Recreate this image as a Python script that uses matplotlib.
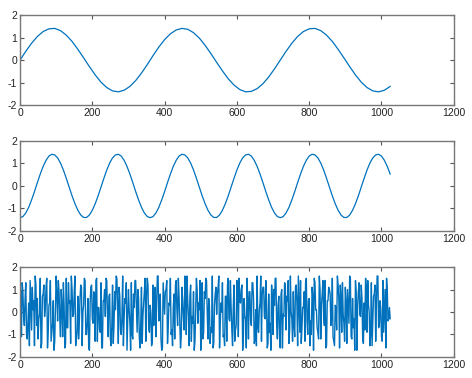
import numpy as np
import matplotlib
matplotlib.use("Agg")
import matplotlib.pyplot as plt

# Sinal 1: seno lento (amostrado a cada 16 pontos)
x1 = np.arange(0, 1025, 16)
y1 = [0.00, 0.39, 0.75, 1.05, 1.27, 1.39, 1.41, 1.31, 1.11, 0.83, 0.48, 0.10,
      -0.29, -0.66, -0.98, -1.22, -1.37, -1.41, -1.34, -1.17, -0.91, -0.58, -0.20,
      0.20, 0.58, 0.91, 1.17, 1.34, 1.41, 1.37, 1.22, 0.98, 0.66, 0.29, -0.10,
      -0.48, -0.83, -1.11, -1.31, -1.41, -1.39, -1.27, -1.05, -0.75, -0.39,
      0.00, 0.39, 0.75, 1.05, 1.27, 1.39, 1.41, 1.31, 1.11, 0.83, 0.48, 0.10,
      -0.29, -0.66, -0.98, -1.22, -1.37, -1.41, -1.34, -1.17]

# Sinal 2: cosseno mais rápido (amostrado a cada 8 pontos)
x2 = np.arange(0, 1025, 8)
y2 = [-1.41, -1.36, -1.20, -0.95, -0.62, -0.25, 0.15, 0.53, 0.87, 1.14, 1.33, 1.41,
      1.38, 1.25, 1.02, 0.71, 0.34, -0.05, -0.44, -0.79, -1.08, -1.29, -1.40,
      -1.40, -1.29, -1.08, -0.79, -0.44, -0.05, 0.34, 0.71, 1.02, 1.25, 1.38,
      1.41, 1.33, 1.14, 0.87, 0.53, 0.15, -0.25, -0.62, -0.95, -1.20, -1.36,
      -1.41, -1.36, -1.20, -0.95, -0.62, -0.25, 0.15, 0.53, 0.87, 1.14, 1.33, 1.41,
      1.38, 1.25, 1.02, 0.71, 0.34, -0.05, -0.44, -0.79, -1.08, -1.29, -1.40,
      -1.40, -1.29, -1.08, -0.79, -0.44, -0.05, 0.34, 0.71, 1.02, 1.25, 1.38,
      1.41, 1.33, 1.14, 0.87, 0.53, 0.15, -0.25, -0.62, -0.95, -1.20, -1.36,
      -1.41, -1.36, -1.20, -0.95, -0.62, -0.25, 0.15, 0.53, 0.87, 1.14, 1.33, 1.41,
      1.38, 1.25, 1.02, 0.71, 0.34, -0.05, -0.44, -0.79, -1.08, -1.29, -1.40,
      -1.40, -1.29, -1.08, -0.79, -0.44, -0.05, 0.34, 0.71, 1.02, 1.25, 1.38,
      1.41, 1.33, 1.14, 0.87, 0.53]

# Sinal 3: ruído, amostras pares (ruido_a) e ímpares (ruido_b), passo 2
ruido_a = [0.2, -1.1, 0.9, -0.6, 1.3, -1.2, 0.4, 1.4, -0.8, 0.1, -1.5, 1.2, 0.6, -0.3, 1.5, -1.4,
           0.8, -0.2, 1.1, -1.6, 0.3, 1.4, -0.9, 0.5, -1.3, 1.6, -0.4, 0.9, -1.1, 0.2, 1.3, -1.6,
           1.5, -0.7, 0.4, -1.4, 1.0, -0.1, 1.6, -1.2, 0.7, -0.5, 1.2, -1.5, 0.3, 1.4, -1.0, 0.6,
           -1.7, 1.1, -0.3, 0.9, -1.3, 1.5, 0.2, -0.8, 1.3, -1.6, 0.5, -0.2, 1.4, -1.1, 0.8, -1.5,
           1.2, -0.6, 0.1, 1.5, -1.4, 0.7, -1.0, 1.6, -0.3, 0.4, -1.7, 1.0, -0.5, 1.3, -1.2, 0.2,
           1.4, -0.9, 0.6, -1.6, 1.1, -0.2, 0.9, -1.3, 1.5, -0.7, 0.3, -1.5, 1.2, 0.5, -1.1, 1.6,
           -0.4, 0.8, -1.7, 1.3, -0.1, 1.0, -1.4, 0.4, 1.5, -0.8, 0.2, -1.2, 1.4, -0.6, 0.7, -1.6,
           1.1, -0.3, 1.6, -1.0, 0.5, -1.5, 1.2, -0.2, 0.9, -1.3, 1.5, -0.5, 0.1, -1.7, 1.3, -0.9,
           0.6, 1.4, -1.2, 0.3, -0.7, 1.6, -1.4, 0.8, -0.1, 1.1, -1.6, 0.4, 1.3, -1.0, 0.7, -1.3,
           1.5, -0.4, 0.2, -1.5, 1.2, -0.8, 1.4, -1.1, 0.5, 1.0, -1.7, 0.6, -0.3, 1.5, -1.2, 0.9,
           -0.6, 1.3, -1.4, 0.1, 1.6, -0.9, 0.4, -1.3, 1.1, -0.2, 1.4, -1.6, 0.8, -0.5, 1.2, -1.0,
           0.3, 1.5, -1.2, 0.7, -1.6, 1.0, -0.1, 1.3, -0.8, 0.5, -1.4, 1.6, -0.3, 0.9, -1.1, 1.2,
           -1.5, 0.4, 1.4, -0.7, 0.2, -1.3, 1.5, -1.0, 0.6, -0.4, 1.1, -1.7, 1.3, 0.1, -0.9, 1.6,
           -1.2, 0.8, -0.2, 1.4, -1.5, 0.5, 1.0, -0.6, 1.5, -1.3, 0.3, -0.8, 1.2, -1.6, 0.7, 1.3,
           -0.5, 1.1, -1.4, 0.2, 1.6, -1.1, 0.6, -0.3, 1.4, -1.7, 0.9, -0.1, 1.2, -1.2, 0.4, 1.5,
           -0.9, 0.3, -1.5, 1.3, -0.4, 0.8, -1.3, 1.6, -0.7, 0.5, -1.1, 1.4, 0.1, -1.6, 1.0, -0.3,
           -0.3]
ruido_b = [0.9, 1.3, -0.2, 0.6, -1.0, -0.4, -1.5, 0.3, 1.1, 0.5, 1.6, -0.6, -1.2, -0.1, -1.6, 0.7,
           1.2, 0.2, 1.5, -0.9, 0.4, -1.3, -0.5, -1.7, 0.1, 0.8, 1.4, -0.3, 1.0, -1.1, 0.3, -1.4,
           -0.7, 1.3, 0.5, 1.6, -0.2, 0.9, -1.5, -0.8, -1.2, 0.6, 1.1, 0.0, 1.5, -1.0, -0.4, -1.6,
           0.4, 1.2, -0.5, 0.8, 1.4, -1.3, 0.2, -0.9, -1.6, 0.5, 1.0, 1.5, -0.1, 0.7, -1.2, -0.6,
           -1.4, 0.9, 1.6, 0.3, 1.1, -0.8, -0.2, -1.5, 0.6, 1.3, -0.4, 0.1, -1.7, -1.0, 0.8, 1.4,
           0.2, 1.0, -1.1, -0.5, -1.4, 0.4, 1.5, 0.7, 1.2, -0.9, 0.0, -1.3, -0.6, 1.1, 0.5, 1.6,
           -0.3, -1.2, -1.6, 0.6, 0.9, 1.4, -0.7, 0.3, -1.0, -1.5, 0.8, 1.2, 0.1, 1.5, -0.4, -1.1,
           0.5, -0.8, 1.3, 1.6, -0.2, 0.7, -1.3, -0.5, -1.7, 0.2, 1.0, 0.4, 1.4, -0.6, -1.2, 0.9,
           1.5, -0.1, 0.6, -1.4, -0.9, -1.6, 0.3, 1.1, 0.8, 1.6, -0.5, 0.0, -1.1, -1.5, 0.7, 1.2,
           -0.3, 1.4, -0.8, 0.2, -1.3, -0.6, 1.0, 1.5, 0.4, 1.2, -1.0, -0.2, -1.6, 0.5, 0.9, -0.4,
           1.3, 0.6, -1.2, -1.5, -0.7, 0.1, 1.6, 0.8, 1.1, -0.3, 0.4, -1.4, -0.9, -1.7, 0.6, 1.0,
           1.5, -0.5, 0.3, -1.1, 0.8, -1.6, -0.2, 1.2, 0.7, 1.4, -0.8, 0.0, -1.3, -0.6, 1.1, 0.4,
           1.6, -0.9, -1.4, 0.2, 0.9, 1.3, -0.4, 0.5, -1.5, -1.0, 0.7, 1.5, 0.1, -0.7, -1.2, 1.0,
           0.3, 1.4, -0.6, -1.6, 0.5, 1.1, 0.8, -0.3, -1.1, -1.5, 0.2, 1.6, 0.6, 1.2, -0.9, -0.1,
           -1.3, 0.4, 1.0, -0.5, 1.5, -1.2, -0.7, -1.7, 0.9, 0.3, 1.3, -0.2, 0.6, -1.4, -0.8, 1.1,
           1.4, 0.0, -1.0, -1.5, 0.7, 1.2, 0.4, 1.6, -0.6, 0.1, -1.3, -0.9, 1.0, 1.5, -0.4, 0.2]

x3 = np.arange(0, 1025, 2)
y3 = np.empty(len(x3))
y3[0::2] = ruido_a
y3[1::2] = ruido_b

xticks = [0, 200, 400, 600, 800, 1000, 1200]
yticks = [-2, -1, 0, 1, 2]

plt.rcParams['font.family'] = ['Liberation Sans', 'DejaVu Sans']
plt.rcParams['axes.unicode_minus'] = False

fig = plt.figure(figsize=(4.72, 3.78), dpi=100)
posicoes = [[0.0424, 0.722, 0.919, 0.238],
            [0.0424, 0.389, 0.919, 0.238],
            [0.0424, 0.0556, 0.919, 0.238]]
sinais = [(x1, y1, 0.9), (x2, y2, 0.9), (x3, y3, 1.0)]

for pos, (x, y, lw) in zip(posicoes, sinais):
    ax = fig.add_axes(pos)
    ax.plot(x, y, color='#0072BD', linewidth=lw)
    ax.set_xlim(0, 1200)
    ax.set_ylim(-2, 2)
    ax.set_xticks(xticks)
    ax.set_yticks(yticks)
    ax.tick_params(direction='in', top=True, right=True, length=3, width=0.8,
                   color='#555555', labelsize=7.5, labelcolor='#222222', pad=2)
    for s in ax.spines.values():
        s.set_color('#777777')
        s.set_linewidth(1.0)

plt.savefig('out.png', dpi=100)
